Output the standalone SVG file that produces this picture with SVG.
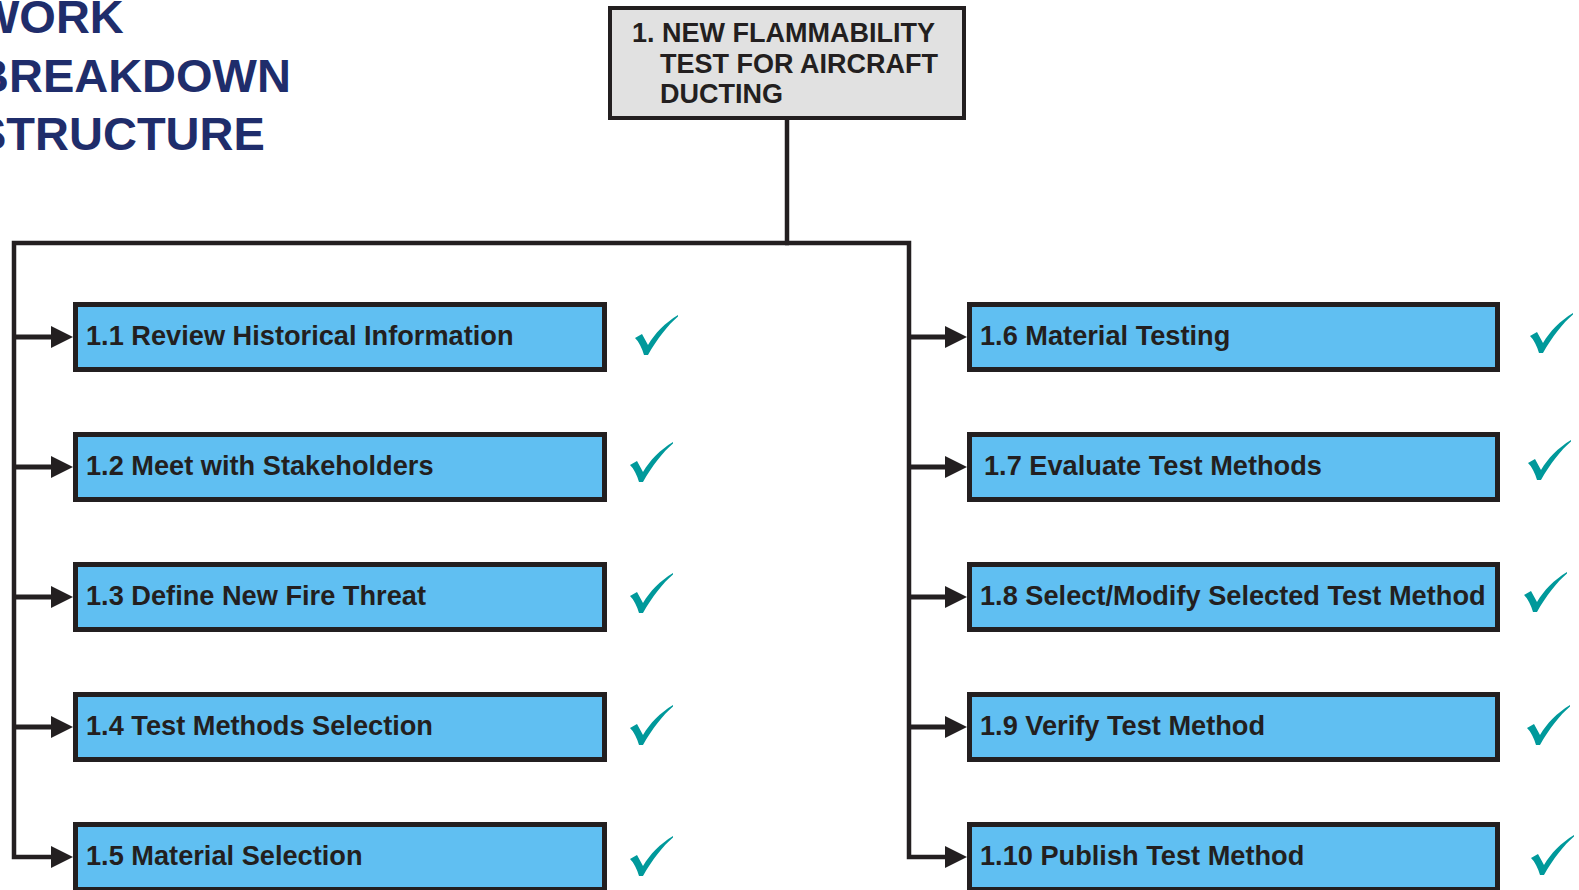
<svg xmlns="http://www.w3.org/2000/svg" width="1579" height="890" viewBox="0 0 1579 890">
<style>
.title{font-family:"Liberation Sans",Arial,sans-serif;font-weight:bold;font-size:47px;fill:#1f2d6b}
.root{fill:#e1e1e1;stroke:#231f20;stroke-width:4}
.rt{font-family:"Liberation Sans",Arial,sans-serif;font-weight:bold;font-size:27px;fill:#231f20}
.box{fill:#60bff2;stroke:#231f20;stroke-width:5}
.lbl{font-family:"Liberation Sans",Arial,sans-serif;font-weight:bold;font-size:27.2px;fill:#231f20}
.trunk{fill:none;stroke:#231f20;stroke-width:4.5;stroke-linejoin:miter}
.shaft{fill:none;stroke:#231f20;stroke-width:5}
.chk{fill:#00999b}
</style>
<defs>
<marker id="ah" markerUnits="userSpaceOnUse" markerWidth="22" markerHeight="22" refX="5" refY="11" orient="auto">
<path d="M0,0 L22,11 L0,22 Z" fill="#231f20"/>
</marker>
<path id="check" d="M0,23 L7,19 L13,30 C20,18 30,8 43,0 L43,1.5 C33,10 22,24 13,40 L9,40 C7,33 4,27 0,23 Z"/>
</defs>

<g id="title">
<text class="title" x="-25" y="33">WORK</text>
<text class="title" x="-25" y="92">BREAKDOWN</text>
<text class="title" x="-25" y="150">STRUCTURE</text>
</g>

<g id="connectors">
<path class="trunk" d="M787,120 L787,243"/>
<path class="trunk" d="M789,243 L14,243 L14,857 L56,857" marker-end="url(#ah)"/>
<path class="trunk" d="M785,243 L909,243 L909,857 L950,857" marker-end="url(#ah)"/>
<line class="shaft" x1="14" y1="337" x2="56" y2="337" marker-end="url(#ah)"/>
<line class="shaft" x1="14" y1="467" x2="56" y2="467" marker-end="url(#ah)"/>
<line class="shaft" x1="14" y1="597" x2="56" y2="597" marker-end="url(#ah)"/>
<line class="shaft" x1="14" y1="727" x2="56" y2="727" marker-end="url(#ah)"/>
<line class="shaft" x1="909" y1="337" x2="950" y2="337" marker-end="url(#ah)"/>
<line class="shaft" x1="909" y1="467" x2="950" y2="467" marker-end="url(#ah)"/>
<line class="shaft" x1="909" y1="597" x2="950" y2="597" marker-end="url(#ah)"/>
<line class="shaft" x1="909" y1="727" x2="950" y2="727" marker-end="url(#ah)"/>
</g>

<g id="node-1">
<rect class="root" x="610" y="8" width="354" height="110"/>
<text class="rt" x="632" y="42">1. NEW FLAMMABILITY</text>
<text class="rt" x="660" y="72.5">TEST FOR AIRCRAFT</text>
<text class="rt" x="660" y="103">DUCTING</text>
</g>

<g id="node-1-1"><rect class="box" x="75.5" y="304.5" width="529" height="65"/><text class="lbl" x="86" y="344.5">1.1 Review Historical Information</text></g>
<g id="node-1-2"><rect class="box" x="75.5" y="434.5" width="529" height="65"/><text class="lbl" x="86" y="474.5">1.2 Meet with Stakeholders</text></g>
<g id="node-1-3"><rect class="box" x="75.5" y="564.5" width="529" height="65"/><text class="lbl" x="86" y="604.5">1.3 Define New Fire Threat</text></g>
<g id="node-1-4"><rect class="box" x="75.5" y="694.5" width="529" height="65"/><text class="lbl" x="86" y="734.5">1.4 Test Methods Selection</text></g>
<g id="node-1-5"><rect class="box" x="75.5" y="824.5" width="529" height="65"/><text class="lbl" x="86" y="864.5">1.5 Material Selection</text></g>

<g id="node-1-6"><rect class="box" x="969.5" y="304.5" width="528" height="65"/><text class="lbl" x="980" y="344.5">1.6 Material Testing</text></g>
<g id="node-1-7"><rect class="box" x="969.5" y="434.5" width="528" height="65"/><text class="lbl" x="984" y="474.5">1.7 Evaluate Test Methods</text></g>
<g id="node-1-8"><rect class="box" x="969.5" y="564.5" width="528" height="65"/><text class="lbl" x="980" y="604.5">1.8 Select/Modify Selected Test Method</text></g>
<g id="node-1-9"><rect class="box" x="969.5" y="694.5" width="528" height="65"/><text class="lbl" x="980" y="734.5">1.9 Verify Test Method</text></g>
<g id="node-1-10"><rect class="box" x="969.5" y="824.5" width="528" height="65"/><text class="lbl" x="980" y="864.5">1.10 Publish Test Method</text></g>

<g id="checks" class="chk">
<use href="#check" x="635" y="315"/>
<use href="#check" x="630" y="442"/>
<use href="#check" x="630" y="573"/>
<use href="#check" x="630" y="705"/>
<use href="#check" x="630" y="836"/>
<use href="#check" x="1530" y="313"/>
<use href="#check" x="1528" y="440"/>
<use href="#check" x="1524" y="572"/>
<use href="#check" x="1527" y="705"/>
<use href="#check" x="1531" y="835"/>
</g>
</svg>
